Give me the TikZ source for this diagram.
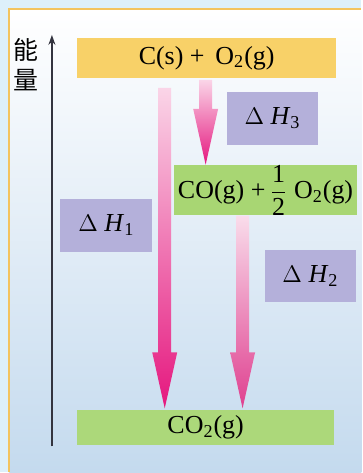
\documentclass[tikz,border=0pt]{standalone}
\usepackage{fontspec}
\setmainfont{Liberation Serif}
\newfontfamily\cjk{Noto Sans CJK SC}
\usetikzlibrary{arrows.meta,calc}
\definecolor{OUTER}{HTML}{DDF0FA}
\definecolor{DEEP}{HTML}{C4DAEE}
\definecolor{FRAME}{HTML}{F3C45E}
\definecolor{AXIS}{HTML}{33343F}
\definecolor{YEL}{HTML}{F8D168}
\definecolor{GRN}{HTML}{A8D673}
\definecolor{LAV}{HTML}{B4B0DA}
\definecolor{PINK}{HTML}{E5177E}
\definecolor{PINKB}{HTML}{DF3F8F}

\begin{document}
\begin{tikzpicture}[
    x=0.5pt, y=-0.5pt,
    font=\fontsize{13}{15}\selectfont,
    level/.style={minimum width=#1*0.5pt, inner sep=0pt, text=black},
    topbox/.style={level=260, fill=YEL, minimum height=20pt},
    midbox/.style={level=184, fill=GRN, minimum height=24.5pt},
    botbox/.style={level=258, fill=GRN!95!white, minimum height=17.5pt},
    dh/.style={fill=LAV, minimum width=46pt, minimum height=26.5pt, inner sep=0pt},
    shaft/.style={top color=#1!18, middle color=#1!97, bottom color=#1},
  ]

  % ===== background and frame =====
  \fill[OUTER] (0,0) rectangle (362,473);
  \shade[top color=white, bottom color=DEEP] (9,9) rectangle (362,473);
  \draw[FRAME, line width=0.8pt] (9,473) -- (9,9) -- (362,9);
  \useasboundingbox (0,0) rectangle (362,473);

  % ===== energy axis =====
  \coordinate (ax0) at (52,447);
  \coordinate (ax1) at (52,35);
  \draw[AXIS, line width=1pt, -{Stealth[length=5pt, width=3.5pt]}] (ax0) -- (ax1);
  \node[font=\cjk\fontsize{12.5}{15}\selectfont, align=center, inner sep=0pt] (en) at (26,65) {能\\量};

  % ===== levels =====
  \node[topbox] (top) at (207,58) {C(s) + \,O\textsubscript{2}(g)};
  \node[midbox] (mid) at (266,190.5) {CO(g) +\,$\displaystyle\frac{\mbox{1}}{\mbox{2}}$ O\textsubscript{2}(g)};
  \node[botbox] (bot) at (206,428.5) {CO\textsubscript{2}(g)};

  % ===== enthalpy labels =====
  \node[dh] (dh3) at (273,118.5) {$\Delta$ \textit{H}\textsubscript{3}\hspace{13pt}};
  \node[dh] (dh1) at (106.5,225.5) {$\Delta$ \textit{H}\textsubscript{1}};
  \node[dh] (dh2) at (311,276.5) {$\Delta$ \textit{H}\textsubscript{2}\hspace{4pt}};

  % ===== arrows: start, tip =====
  \coordinate (a3s) at (206,80);  \coordinate (a3t) at (206,165);
  \coordinate (a1s) at (165,88);  \coordinate (a1t) at (165,409);
  \coordinate (a2s) at (243,216); \coordinate (a2t) at (243,409);
  \foreach \s/\t/\c in {a3s/a3t/PINK, a1s/a1t/PINK, a2s/a2t/PINKB} {
    \path[shaft=\c] let \p1=(\s), \p2=(\t) in
      (\x1-3.25pt,\y1) -- (\x1+3.25pt,\y1) -- (\x1+3.25pt,\y2+28pt)
      -- (\x1+6.25pt,\y2+28pt) -- (\p2) -- (\x1-6.25pt,\y2+28pt)
      -- (\x1-3.25pt,\y2+28pt) -- cycle;
  }

\end{tikzpicture}
\end{document}
